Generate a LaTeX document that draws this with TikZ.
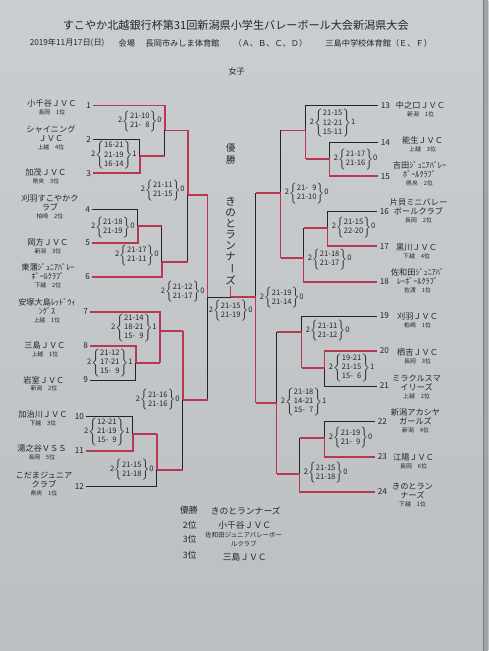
\documentclass[tikz,border=0pt]{standalone}
\usepackage{fontspec}
\setmainfont{Noto Sans CJK JP}
\usepackage{xcolor}
\usetikzlibrary{positioning}
\definecolor{paperhi}{RGB}{203,206,208}
\definecolor{paperlo}{RGB}{188,191,194}
\definecolor{winred}{RGB}{184,56,82}
\definecolor{ink}{RGB}{36,36,40}
\newcommand{\matchscore}[3]{#1$\left\{\begin{tabular}{@{}r@{}}#2\end{tabular}\right\}$#3}

\begin{document}
\begin{tikzpicture}[
  x=0.03cm, y=-0.03cm,
  win/.style={draw=winred, line width=1.2pt},
  lose/.style={draw=ink, line width=0.7pt},
  team/.style={font=\fontsize{7}{7.8}\selectfont, align=center, inner sep=0.5pt, text=ink},
  sub/.style={font=\fontsize{5}{5.5}\selectfont, inner sep=0.5pt, text=ink},
  numl/.style={anchor=east, inner sep=1.5pt, font=\fontsize{7}{8}\selectfont, text=ink},
  numr/.style={anchor=west, inner sep=2.5pt, font=\fontsize{7}{8}\selectfont, text=ink},
  scl/.style={anchor=east, inner sep=0pt, font=\fontsize{6.5}{7.8}\selectfont, text=ink},
  scr/.style={anchor=west, inner sep=0pt, font=\fontsize{6.5}{7.8}\selectfont, text=ink},
  head/.style={inner sep=0.5pt, text=ink}
]
  % Paper
  \shade[top color=paperhi, bottom color=paperlo] (0,0) rectangle (489,651);
  \fill[paperlo!85!black] (484,0) rectangle (489,651);
  \draw[ink!60, line width=0.6pt] (484,0) -- (484,651);

  % Heading
  \node[head, font=\fontsize{9.5}{11}\selectfont] (title) at (236,25)
    {すこやか北越銀行杯第31回新潟県小学生バレーボール大会新潟県大会};
  \node[head, anchor=west, font=\fontsize{7}{8}\selectfont] (date) at (29,43) {2019年11月17日(日)};
  \node[head, anchor=west, font=\fontsize{7}{8}\selectfont] (hall) at (118,43) {会場};
  \node[head, anchor=west, font=\fontsize{7}{8}\selectfont] (hallA) at (145,43) {長岡市みしま体育館};
  \node[head, anchor=west, font=\fontsize{7}{8}\selectfont] (courtA) at (233,43) {（Ａ、Ｂ、Ｃ、Ｄ）};
  \node[head, anchor=west, font=\fontsize{7}{8}\selectfont] (hallB) at (325,43) {三島中学校体育館（Ｅ、Ｆ）};
  \node[head, font=\fontsize{7}{8}\selectfont] (girls) at (237,71) {女子};

  % Entry numbers
  \node[numl] (n1) at (93,105) {1};
  \node[numl] (n2) at (93,139) {2};
  \node[numl] (n3) at (93,173) {3};
  \node[numl] (n4) at (92,209) {4};
  \node[numl] (n5) at (92,243) {5};
  \node[numl] (n6) at (92,277) {6};
  \node[numl] (n7) at (90,312) {7};
  \node[numl] (n8) at (90,346) {8};
  \node[numl] (n9) at (90,380) {9};
  \node[numl] (n10) at (86,417) {10};
  \node[numl] (n11) at (86,451) {11};
  \node[numl] (n12) at (86,487) {12};
  \node[numr] (n13) at (378,105) {13};
  \node[numr] (n14) at (378,142) {14};
  \node[numr] (n15) at (378,176) {15};
  \node[numr] (n16) at (377,211) {16};
  \node[numr] (n17) at (377,246) {17};
  \node[numr] (n18) at (377,282) {18};
  \node[numr] (n19) at (377,316) {19};
  \node[numr] (n20) at (377,351) {20};
  \node[numr] (n21) at (377,386) {21};
  \node[numr] (n22) at (375,422) {22};
  \node[numr] (n23) at (375,457) {23};
  \node[numr] (n24) at (375,492) {24};

  % Teams, left
  \node[team] (t1) at (52,103) {小千谷ＪＶＣ};
  \node[sub, below=0.6pt of t1] (s1) {長岡　1位};
  \node[team] (t2) at (51,133.5) {シャイニング\\ＪＶＣ};
  \node[sub, below=0.6pt of t2] (s2) {上越　4位};
  \node[team] (t3) at (46,172) {加茂ＪＶＣ};
  \node[sub, below=0.6pt of t3] (s3) {県央　3位};
  \node[team] (t4) at (50,202.5) {刈羽すこやかク\\ラブ};
  \node[sub, below=0.6pt of t4] (s4) {柏崎　2位};
  \node[team] (t5) at (48,242) {岡方ＪＶＣ};
  \node[sub, below=0.6pt of t5] (s5) {新潟　3位};
  \node[team] (t6) at (48,271.5) {東蒲ｼﾞｭﾆｱﾊﾞﾚｰ\\ﾎﾞｰﾙｸﾗﾌﾞ};
  \node[sub, below=0.6pt of t6] (s6) {下越　2位};
  \node[team] (t7) at (47,307) {安塚大島ﾚｯﾄﾞｳｨ\\ﾝｸﾞｽ};
  \node[sub, below=0.6pt of t7] (s7) {上越　1位};
  \node[team] (t8) at (45,345) {三島ＪＶＣ};
  \node[sub, below=0.6pt of t8] (s8) {上越　1位};
  \node[team] (t9) at (44,380) {岩室ＪＶＣ};
  \node[sub, below=0.6pt of t9] (s9) {新潟　2位};
  \node[team] (t10) at (43,415) {加治川ＪＶＣ};
  \node[sub, below=0.6pt of t10] (s10) {下越　3位};
  \node[team] (t11) at (42,449) {湯之谷ＶＳＳ};
  \node[sub, below=0.6pt of t11] (s11) {長岡　5位};
  \node[team] (t12) at (44,480.5) {こだまジュニア\\クラブ};
  \node[sub, below=0.6pt of t12] (s12) {県央　1位};

  % Teams, right
  \node[team] (t13) at (421,105) {中之口ＪＶＣ};
  \node[sub, below=0.6pt of t13] (s13) {新潟　1位};
  \node[team] (t14) at (423,140) {能生ＪＶＣ};
  \node[sub, below=0.6pt of t14] (s14) {上越　3位};
  \node[team] (t15) at (420,169.5) {吉田ｼﾞｭﾆｱﾊﾞﾚｰ\\ﾎﾞｰﾙｸﾗﾌﾞ};
  \node[sub, below=0.6pt of t15] (s15) {県央　2位};
  \node[team] (t16) at (419,206.5) {片貝ミニバレー\\ボールクラブ};
  \node[sub, below=0.6pt of t16] (s16) {長岡　2位};
  \node[team] (t17) at (417,247) {黒川ＪＶＣ};
  \node[sub, below=0.6pt of t17] (s17) {下越　4位};
  \node[team] (t18) at (418,277) {佐和田ｼﾞｭﾆｱﾊﾞ\\ﾚｰﾎﾞｰﾙｸﾗﾌﾞ};
  \node[sub, below=0.6pt of t18] (s18) {佐渡　1位};
  \node[team] (t19) at (418,316) {刈羽ＪＶＣ};
  \node[sub, below=0.6pt of t19] (s19) {柏崎　1位};
  \node[team] (t20) at (418,352) {栖吉ＪＶＣ};
  \node[sub, below=0.6pt of t20] (s20) {長岡　3位};
  \node[team] (t21) at (417,383) {ミラクルスマ\\イリーズ};
  \node[sub, below=0.6pt of t21] (s21) {上越　2位};
  \node[team] (t22) at (416,417) {新潟アカシヤ\\ガールズ};
  \node[sub, below=0.6pt of t22] (s22) {新潟　4位};
  \node[team] (t23) at (414,458) {江陽ＪＶＣ};
  \node[sub, below=0.6pt of t23] (s23) {長岡　6位};
  \node[team] (t24) at (413,491.5) {きのとラン\\ナーズ};
  \node[sub, below=0.6pt of t24] (s24) {下越　1位};

  % Match points
  \coordinate (a1) at (140,156);
  \coordinate (a2) at (165,130);
  \coordinate (b1) at (138,226);
  \coordinate (b2) at (162,262);
  \coordinate (ab) at (188,195);
  \coordinate (c1) at (136,363);
  \coordinate (c2) at (160,331);
  \coordinate (d1) at (133,434);
  \coordinate (d2) at (157,470);
  \coordinate (cd) at (183,400);
  \coordinate (ls) at (208,297);
  \coordinate (e1) at (330,159);
  \coordinate (e2) at (306,130);
  \coordinate (f1) at (328,228);
  \coordinate (f2) at (304,258);
  \coordinate (ef) at (281,193);
  \coordinate (g1) at (325,368);
  \coordinate (g2) at (302,332);
  \coordinate (h1) at (325,438);
  \coordinate (h2) at (300,474);
  \coordinate (gh) at (277,403);
  \coordinate (rs) at (256,297);
  \coordinate (fin) at (231,297);

  % Entry lines
  \foreach \t/\m/\c in {2/a1/lose, 4/b1/lose, 9/c1/lose, 10/d1/lose, 12/d2/lose,
                        1/a2/win, 3/a1/win, 5/b1/win, 6/b2/win, 7/c2/win, 8/c1/win, 11/d1/win}
    \draw[\c] (n\t.east) -| (\m);
  \foreach \t/\m/\c in {13/e2/lose, 14/e1/lose, 16/f1/lose, 19/g2/lose, 21/g1/lose, 22/h1/lose,
                        15/e1/win, 17/f1/win, 18/f2/win, 20/g1/win, 23/h1/win, 24/h2/win}
    \draw[\c] (n\t.west) -| (\m);

  % Winners go on
  \foreach \m/\n/\c in {a1/a2/lose, b1/b2/lose, b2/ab/lose, cd/ls/lose, d2/cd/lose,
                        f1/f2/lose, e2/ef/lose, ef/rs/lose, h1/h2/lose, g2/gh/lose,
                        a2/ab/win, ab/ls/win, c1/c2/win, d1/d2/win, c2/cd/win,
                        e1/e2/win, f2/ef/win, gh/rs/win, g1/g2/win, h2/gh/win}
    \draw[\c] (\m -| \n) -- (\n);
  \foreach \m/\n in {a1/a2, a2/ab, b1/b2, b2/ab, ab/ls, c1/c2, c2/cd, d1/d2, d2/cd, cd/ls,
                     e1/e2, e2/ef, f1/f2, f2/ef, ef/rs, g1/g2, g2/gh, h1/h2, h2/gh, gh/rs}
    \draw[win] (\m) -- (\m -| \n);

  % Final
  \node[head, align=center, font=\fontsize{8}{10.2}\selectfont] (yusho) at (231,154) {優\\勝};
  \node[head, align=center, font=\fontsize{9}{9.3}\selectfont] (champ) at (231,241)
    {き\\の\\と\\ラ\\ン\\ナ\\\rotatebox[origin=c]{-90}{ー}\\ズ};
  \draw[lose] (ls) -- (fin);
  \draw[win] (rs) -- (fin);
  \draw[win] (fin) -- (champ.south);

  % Scores
  \node[scl] (sa1) at (137,155) {\matchscore{2}{16-21\\21-19\\16-14}{1}};
  \node[scl] (sa2) at (162,121) {\matchscore{2}{21-10\\21-\phantom{0}8}{0}};
  \node[scl] (sb1) at (135,227) {\matchscore{2}{21-18\\21-19}{0}};
  \node[scl] (sb2) at (159,255) {\matchscore{2}{21-17\\21-11}{0}};
  \node[scl] (sab) at (185,190) {\matchscore{2}{21-11\\21-15}{0}};
  \node[scl] (sls) at (205,292) {\matchscore{2}{21-12\\21-17}{0}};
  \node[scl] (sc2) at (157,328) {\matchscore{2}{21-14\\18-21\\15-\phantom{0}9}{1}};
  \node[scl] (sc1) at (133,363) {\matchscore{2}{21-12\\17-21\\15-\phantom{0}9}{1}};
  \node[scl] (scd) at (180,400) {\matchscore{2}{21-16\\21-16}{0}};
  \node[scl] (sd1) at (130,432) {\matchscore{2}{12-21\\21-19\\15-\phantom{0}9}{1}};
  \node[scl] (sd2) at (154,470) {\matchscore{2}{21-15\\21-18}{0}};
  \node[scr] (se2) at (310,123) {\matchscore{2}{21-15\\12-21\\15-11}{1}};
  \node[scr] (se1) at (334,159) {\matchscore{2}{21-17\\21-16}{0}};
  \node[scr] (sef) at (285,193) {\matchscore{2}{21-\phantom{0}9\\21-10}{0}};
  \node[scr] (sf1) at (332,227) {\matchscore{2}{21-15\\22-20}{0}};
  \node[scr] (sf2) at (308,259) {\matchscore{2}{21-18\\21-17}{0}};
  \node[scr] (srs) at (260,298) {\matchscore{2}{21-19\\21-14}{0}};
  \node[scr] (sg2) at (306,331) {\matchscore{2}{21-11\\21-12}{0}};
  \node[scr] (sg1) at (329,368) {\matchscore{2}{19-21\\21-15\\15-\phantom{0}6}{1}};
  \node[scr] (sgh) at (281,402) {\matchscore{2}{21-18\\14-21\\15-\phantom{0}7}{1}};
  \node[scr] (sh1) at (329,438) {\matchscore{2}{21-19\\21-\phantom{0}9}{0}};
  \node[scr] (sh2) at (304,473) {\matchscore{2}{21-15\\21-18}{0}};
  \node[scl, anchor=north] (sfin) at (231,300) {\matchscore{2}{21-15\\21-19}{0}};

  % Results
  \node[head, font=\fontsize{7.5}{8}\selectfont] (r1l) at (189,510) {優勝};
  \node[head, font=\fontsize{7.5}{8}\selectfont] (r1) at (246,511) {きのとランナーズ};
  \node[head, font=\fontsize{7.5}{8}\selectfont] (r2l) at (190,525) {2位};
  \node[head, font=\fontsize{7.5}{8}\selectfont] (r2) at (245,525) {小千谷ＪＶＣ};
  \node[head, font=\fontsize{7.5}{8}\selectfont] (r3l) at (190,539) {3位};
  \node[head, align=center, font=\fontsize{5.5}{7.5}\selectfont] (r3) at (244,540)
    {佐和田ジュニアバレーボー\\ルクラブ};
  \node[head, font=\fontsize{7.5}{8}\selectfont] (r4l) at (190,555) {3位};
  \node[head, font=\fontsize{7.5}{8}\selectfont] (r4) at (245,557) {三島ＪＶＣ};
\end{tikzpicture}
\end{document}
